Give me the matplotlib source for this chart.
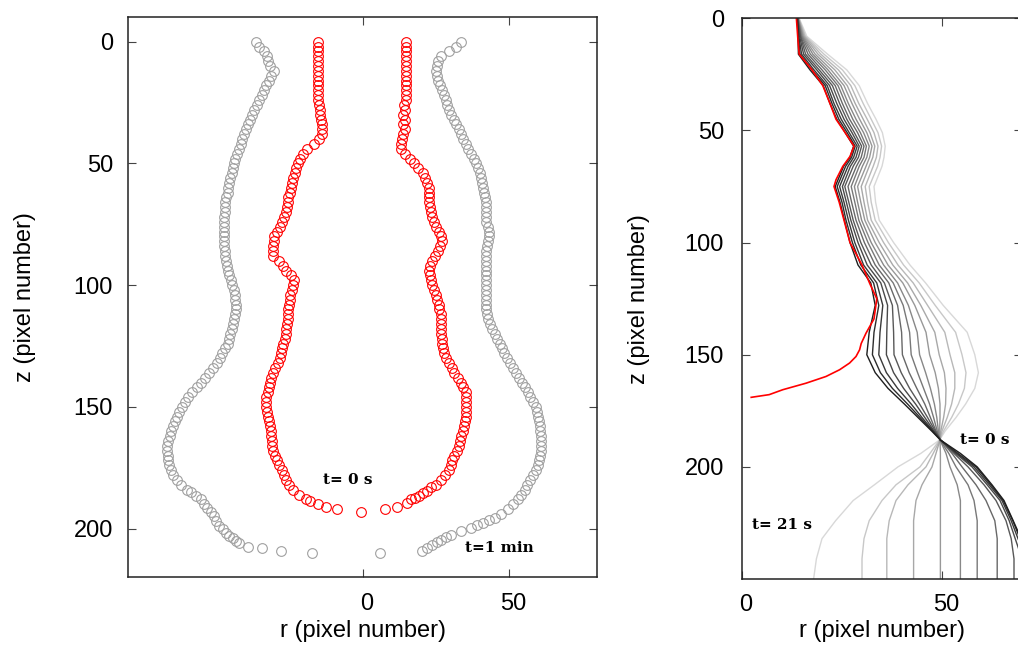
import matplotlib
matplotlib.use("Agg")
import matplotlib.pyplot as plt
import matplotlib.transforms as mtransforms

# ---------------- Left panel data: drop profiles (r, z) ----------------
red_right_z = [0, 2, 4, 6, 8, 10, 12, 14, 16, 18, 20, 22, 24, 26, 28, 30, 32, 34, 36, 38, 40, 42, 44, 46,
               48, 50, 52, 54, 56, 58, 60, 62, 64, 66, 68, 70, 72, 74, 76, 78, 80, 82, 84, 86, 88, 90,
               92, 94, 96, 98, 100, 102, 104, 106, 108, 110, 112, 114, 116, 118, 120, 122, 124, 126,
               128, 130, 132, 134, 136, 138, 140, 142, 144, 146, 148, 150, 152, 154, 156, 158, 160,
               162, 164, 166, 168, 170, 172, 174, 176, 178, 180, 182,
               183, 184.5, 185.5, 186.5, 187.5, 188, 189.5, 191, 192]
red_right_r = [15, 15, 15, 15, 15, 15, 15, 15, 15, 15, 15, 15, 15, 14.2, 14.5, 14, 14.6, 14, 14.4, 14, 13.5, 13, 13, 14.5,
               16.2, 17.5, 19, 20.5, 21.3, 22.2, 22.7, 22.7, 22.8, 22.8, 23, 23.5, 23.9, 24.5, 25, 26, 26.7, 27,
               26.5, 25.8, 24.8, 23.8, 23.2, 22.8, 23, 23.4, 23.9, 24.5, 25.1, 25.6, 26, 26.3, 26.7, 26.7, 26.7,
               26.7, 26.8, 27, 27.3, 27.6, 28, 28.4, 29.5, 30.5, 31.3, 32.5, 33.6, 34.5, 35.2, 35.3, 35.3, 35.3,
               35.3, 35.3, 35, 34.6, 34.2, 33.8, 33.4, 33, 32.2, 31.3, 30.7, 30.1, 29.6, 28.2, 26.7, 25,
               23.5, 22.1, 20.5, 19.3, 17.8, 16.4, 15.3, 11.8, 7.8]

red_left_z = [0, 2, 4, 6, 8, 10, 12, 14, 16, 18, 20, 22, 24, 26, 28, 30, 32, 34, 36, 38, 40, 42, 44, 46,
              48, 50, 52, 54, 56, 58, 60, 62, 64, 66, 68, 70, 72, 74, 76, 78, 80, 82, 84, 86, 88, 90,
              92, 94, 96, 98, 100, 102, 104, 106, 108, 110, 112, 114, 116, 118, 120, 122, 124, 126,
              128, 130, 132, 134, 136, 138, 140, 142, 144, 146, 148, 150, 152, 154, 156, 158, 160,
              162, 164, 166, 168, 170, 172, 174, 176, 178, 180, 182, 184, 186, 188,
              188.8, 190, 191, 191.8, 193]
red_left_r = [-15.1, -15.1, -15.1, -15.1, -15.1, -15.1, -15.1, -15.1, -15.1, -15.1, -15.1, -15.1, -15.1,
              -14.9, -14.6, -14.4, -14.2, -14, -14, -14, -14.8, -16.5, -18.8, -20.3,
              -21.2, -22, -22.6, -23.2, -23.7, -24.1, -24.3, -24.9, -25.3, -25.6, -25.8, -26, -26.8, -27.5,
              -28.3, -29.2, -30.2, -30.4, -30.5, -30.6, -30.5, -28.5, -27.2, -26, -24.5, -23.4, -23.7,
              -24.2, -24.7, -24.8, -25.2, -25.5, -25.5, -25.6, -25.8, -26, -26.1, -26.6, -27.1, -27.4,
              -27.8, -28.3, -29, -29.8, -30.6, -31.2, -31.6, -31.9, -32.3, -32.8, -32.9, -32.9, -32.6,
              -32.3, -32, -31.6, -31.2, -31.1, -31, -30.8, -30.5, -30, -29.3, -28.6, -27.6, -26.8, -26,
              -25, -23.7, -21.8, -19.3,
              -18, -15.1, -12.6, -8.6, -0.6]

gray_right_z = [0, 2, 4, 6, 8, 10, 12, 14, 16, 18, 20, 22, 24, 26, 28, 30, 32, 34, 36, 38, 40, 42, 44, 46,
                48, 50, 52, 54, 56, 58, 60, 62, 64, 66, 68, 70, 72, 74, 76, 78, 80, 82, 84, 86, 88, 90,
                92, 94, 96, 98, 100, 102, 104, 106, 108, 110, 112, 114, 116, 118, 120, 122, 124, 126,
                128, 130, 132, 134, 136, 138, 140, 142, 144, 146, 148, 150, 152, 154, 156, 158, 160,
                162, 164, 166, 168, 170, 172, 174, 176, 178, 180, 182, 184, 186, 188, 190, 192,
                193.8, 195.6, 196.6, 197.7, 198.7, 199.7, 201, 202.5, 203.5, 204.5, 205.5, 206.6, 208, 209, 210]
gray_right_r = [33.8, 31.9, 29.6, 26.7, 25.8, 25.3, 25, 25.3, 25.8, 26.4, 27.2, 27.8, 28.4, 29, 29.6, 30.4,
                31.2, 31.9, 32.8, 33.7, 34.5, 35.3, 36.2, 37, 38, 38.8, 39.5, 40.1, 40.6, 40.9, 41.2, 41.6,
                42, 42.2, 42.2, 42.2, 42.2, 42.2, 43, 43.3, 43.3, 43, 42.4, 42.2, 42.2, 42.2, 42.2, 42.2,
                42.2, 42.2, 42.2, 42.2, 42.2, 42.2, 42.2, 42.2, 42.5, 43, 43.6, 44.3, 45.2, 46, 46.8, 47.6,
                48.5, 49.4, 50.4, 51.5, 52.6, 53.6, 54.6, 55.6, 56.5, 57.3, 58.2, 59.1, 59.7, 60.1, 60.4,
                60.6, 60.8, 61, 61.1, 61.1, 61.1, 60.8, 60.4, 60, 59.2, 58.2, 57.1, 56.2, 55.4, 54.3, 53.1,
                51.5, 49.7,
                47.4, 45.1, 43.2, 41.1, 39, 37, 33.6, 30.2, 28.5, 26.7, 25.3, 23.9, 22, 20.4, 6.1]

gray_left_z = [0, 2, 4, 6, 8, 10, 12, 14, 16, 18, 20, 22, 24, 26, 28, 30, 32, 34, 36, 38, 40, 42, 44, 46,
               48, 50, 52, 54, 56, 58, 60, 62, 64, 66, 68, 70, 72, 74, 76, 78, 80, 82, 84, 86, 88, 90,
               92, 94, 96, 98, 100, 102, 104, 106, 108, 110, 112, 114, 116, 118, 120, 122, 124, 126,
               128, 130, 132, 134, 136, 138, 140, 142, 144, 146, 148, 150, 152, 154, 156, 158, 160,
               162, 164, 166, 168, 170, 172, 174, 176, 178, 180, 182, 184,
               185, 186.5, 188, 190, 191.5, 193, 195, 197, 199, 200.3, 201.6, 203, 204, 205, 206,
               207.5, 208, 209, 210]
gray_left_r = [-36.4, -35.2, -33.5, -32.6, -32.2, -31.5, -30.4, -31.2, -32, -32.8, -33.5, -34.4, -35.3,
               -36.2, -37, -37.7, -38.3, -39.2, -39.8, -40.5, -41, -41.5, -42.2, -43, -43.5, -44, -44.3,
               -44.6, -45.2, -45.5, -45.8, -46.1, -46.5, -46.8, -46.9, -47.1, -47.2, -47.2, -47.2, -47.2,
               -47.2, -47.2, -47.2, -47, -46.9, -46.7, -46.3, -45.9, -45.5, -45, -44.5, -44, -43.6, -43.4,
               -43.3, -43.3, -43.6, -44, -44.3, -44.6, -45.2, -45.7, -46.1, -46.8, -47.9, -48.8, -49.8,
               -51, -52.4, -53.8, -55.3, -56.7, -58.1, -59.5, -60.8, -61.8, -62.6, -63.3, -64, -64.7,
               -65.3, -65.9, -66.4, -66.7, -66.7, -66.6, -66.4, -66.2, -65.5, -64.7, -63.5, -62, -60,
               -58.7, -57, -55.3, -54, -53, -51.8, -50.7, -50, -49, -47.8, -46.7, -45.5, -44.4, -43.2,
               -42.1, -39.2, -34.3, -27.8, -17.1]

# ---------------- Right panel data: profile evolution (dark = early, light = t=21 s) ----------------
line_z = [0, 8, 16, 23, 30, 38, 45, 51, 57, 62, 66, 75, 82, 90, 100, 110, 118, 128, 140, 150, 158, 165,
          172, 178, 184, 188, 194, 200, 208, 215, 224, 232, 241, 250]
line_r = [
    [13.8, 14.0, 14.1, 17.0, 20.3, 22.0, 23.7, 25.8, 27.9, 27.0, 25.4, 23.3, 24.5, 25.6, 27.0, 29.0, 32.2, 33.3,
     31.8, 31.2, 33.3, 36.5, 40.6, 44.0, 47.4, 49.6, 54.6, 58.8, 62.5, 65.5, 67.8, 69.8, 72.5, 75.0],
    [13.8, 14.1, 14.5, 17.5, 20.8, 22.5, 24.2, 26.3, 28.3, 27.4, 25.9, 23.8, 25.0, 26.0, 27.6, 29.7, 32.9, 34.2,
     33.0, 32.6, 34.6, 37.6, 41.4, 44.5, 47.6, 49.6, 54.0, 58.5, 62.2, 65.3, 67.7, 69.5, 72.0, 74.0],
    [13.9, 14.2, 14.9, 18.0, 21.3, 23.0, 24.8, 26.8, 28.8, 27.9, 26.5, 24.4, 25.5, 26.6, 28.2, 30.4, 33.7, 35.2,
     34.5, 34.2, 36.1, 38.9, 42.3, 45.0, 47.8, 49.6, 53.7, 58.0, 61.8, 65.0, 67.3, 69.0, 71.0, 72.5],
    [13.9, 14.4, 15.4, 18.7, 21.9, 23.7, 25.5, 27.5, 29.3, 28.5, 27.1, 25.1, 26.1, 27.2, 29.0, 31.3, 34.7, 36.4,
     36.2, 36.1, 37.9, 40.4, 43.4, 45.7, 48.0, 49.6, 53.4, 57.5, 61.3, 64.5, 66.8, 68.3, 70.0, 71.0],
    [13.9, 14.6, 15.9, 19.3, 22.6, 24.4, 26.2, 28.1, 29.9, 29.1, 27.8, 25.7, 26.7, 27.8, 29.7, 32.3, 35.6, 37.6,
     37.9, 38.0, 39.8, 41.9, 44.4, 46.4, 48.3, 49.6, 53.0, 56.5, 60.5, 63.5, 66.0, 67.3, 68.0, 68.0],
    [14.0, 14.7, 16.5, 20.0, 23.3, 25.1, 26.9, 28.9, 30.5, 29.8, 28.6, 26.5, 27.4, 28.5, 30.6, 33.3, 36.7, 38.9,
     39.9, 40.1, 41.8, 43.7, 45.7, 47.1, 48.5, 49.6, 52.5, 55.0, 58.5, 61.0, 63.2, 63.8, 63.8, 63.8],
    [14.0, 14.9, 17.1, 20.8, 24.0, 25.9, 27.7, 29.6, 31.1, 30.5, 29.3, 27.3, 28.2, 29.2, 31.5, 34.3, 37.8, 40.3,
     41.9, 42.3, 43.9, 45.4, 46.9, 47.9, 48.8, 49.5, 51.7, 53.5, 56.5, 58.0, 58.8, 58.8, 58.8, 58.8],
    [14.0, 15.1, 17.7, 21.5, 24.7, 26.6, 28.5, 30.4, 31.8, 31.2, 30.1, 28.1, 28.9, 29.9, 32.3, 35.4, 38.9, 41.6,
     43.8, 44.4, 45.9, 47.1, 48.1, 48.7, 49.1, 49.5, 51.0, 52.0, 53.8, 54.6, 54.6, 54.6, 54.6, 54.6],
    [14.1, 15.3, 18.3, 22.3, 25.5, 27.5, 29.4, 31.2, 32.5, 31.9, 31.0, 28.9, 29.7, 30.7, 33.3, 36.5, 40.2, 43.2,
     46.0, 46.9, 48.3, 49.1, 49.5, 49.5, 49.4, 49.5, 49.6, 49.6, 49.6, 49.6, 49.6, 49.6, 49.6, 49.6],
    [14.1, 15.5, 19.0, 23.2, 26.3, 28.3, 30.3, 32.0, 33.2, 32.7, 31.8, 29.8, 30.5, 31.4, 34.3, 37.7, 41.4, 44.7,
     48.2, 49.3, 50.6, 51.0, 50.9, 50.4, 49.7, 49.5, 48.5, 47.5, 45.0, 43.5, 42.9, 42.9, 42.9, 42.9],
    [14.2, 15.7, 19.7, 24.1, 27.2, 29.2, 31.3, 33.0, 34.0, 33.6, 32.8, 30.8, 31.4, 32.3, 35.4, 39.0, 42.8, 46.4,
     50.7, 52.0, 53.2, 53.2, 52.4, 51.3, 50.0, 49.5, 47.8, 46.0, 41.5, 38.5, 36.8, 36.2, 36.2, 36.2],
    [14.2, 15.9, 20.5, 25.1, 28.2, 30.3, 32.3, 34.0, 34.9, 34.5, 33.9, 31.8, 32.3, 33.3, 36.6, 40.4, 44.3, 48.3,
     53.4, 55.0, 56.0, 55.6, 54.1, 52.4, 50.4, 49.4, 47.0, 44.5, 38.5, 35.0, 31.8, 30.5, 30.0, 30.0],
    [14.3, 16.2, 21.4, 26.2, 29.3, 31.4, 33.5, 35.1, 35.8, 35.5, 35.0, 33.0, 33.4, 34.3, 37.9, 42.0, 45.9, 50.3,
     56.3, 58.2, 59.1, 58.2, 55.9, 53.5, 50.8, 49.4, 44.7, 39.0, 33.1, 27.8, 23.4, 20.0, 18.6, 17.9],
]
line_colors = ['#1e1e1e', '#2c2c2c', '#3a3a3a', '#494949', '#585858', '#686868', '#787878',
               '#888888', '#989898', '#a8a8a8', '#b8b8b8', '#c8c8c8', '#d8d8d8']

red_line_z = [0, 5, 10, 16, 23, 30, 38, 45, 51, 57, 61.6, 66, 72, 75, 82, 90, 100, 110, 118.5, 125,
              134, 140.4, 145, 147.8, 150.8, 153.7, 156.7, 159.7, 162.7, 165.6, 167.8, 169]
red_line_r = [13.6, 13.8, 14.0, 14.3, 17.5, 20.2, 22.0, 23.5, 25.8, 28.0, 27.0, 25.2, 23.5, 23.0, 24.3,
              25.5, 27.0, 30.0, 32.0, 33.7, 33.0, 31.0, 29.8, 29.4, 28.5, 26.9, 24.4, 21.0, 16.0, 10.2, 6.8, 2.3]

for a, b in [(red_right_z, red_right_r), (red_left_z, red_left_r),
             (gray_right_z, gray_right_r), (gray_left_z, gray_left_r), (red_line_z, red_line_r)]:
    assert len(a) == len(b), (len(a), len(b))
for rr in line_r:
    assert len(rr) == len(line_z), len(rr)

# ---------------- Figure ----------------
plt.rcParams['font.family'] = ['Liberation Sans', 'DejaVu Sans']
fig = plt.figure(figsize=(10.18, 6.64), dpi=100)

W, H = 1018.0, 664.0
axL = fig.add_axes([128.3 / W, 1 - 577.3 / H, (596.7 - 128.3) / W, (577.3 - 17.3) / H])
axR = fig.add_axes([742.0 / W, 1 - 579.0 / H, 280.0 / W, (579.0 - 18.3) / H])

gray_c = '#a0a0a0'
ms = 7.0
axL.plot(gray_left_r, gray_left_z, 'o', mfc='none', mec=gray_c, ms=ms, mew=0.8, ls='none')
axL.plot(gray_right_r, gray_right_z, 'o', mfc='none', mec=gray_c, ms=ms, mew=0.8, ls='none')
axL.plot(red_left_r, red_left_z, 'o', mfc='none', mec='#ff0000', ms=ms, mew=0.8, ls='none')
axL.plot(red_right_r, red_right_z, 'o', mfc='none', mec='#ff0000', ms=ms, mew=0.8, ls='none')

axL.set_xlim(-80, 80)
axL.set_ylim(220, -10)
axL.set_xticks([0, 50])
axL.set_yticks([0, 50, 100, 150, 200])

txt_kw = dict(family='DejaVu Serif', fontweight='bold', fontsize=11, ha='center', va='center')
axL.text(-4.9, 180, 't= 0 s', **txt_kw)
axL.text(46.6, 208, 't=1 min', **txt_kw)

for k in range(len(line_r) - 1, -1, -1):
    axR.plot(line_r[k], line_z, color=line_colors[k], lw=1.0)
axR.plot(red_line_r, red_line_z, color='#ff0000', lw=1.2)

axR.set_xlim(0, 70)
axR.set_ylim(250, 0)
axR.set_xticks([0, 50])
axR.set_yticks([0, 50, 100, 150, 200])
axR.text(60.8, 188, 't= 0 s', **txt_kw)
axR.text(9.9, 225.8, 't= 21 s', **txt_kw)

offset = mtransforms.ScaledTranslation(0.04, 0, fig.dpi_scale_trans)
for ax in (axL, axR):
    ax.tick_params(direction='in', top=True, right=True, length=6, width=0.8,
                   color='#444444', labelsize=17, pad=11)
    for sp in ax.spines.values():
        sp.set_linewidth(1.1)
        sp.set_color('#222222')
    for lab in ax.get_xticklabels():
        lab.set_transform(lab.get_transform() + offset)
    ax.set_xlabel('r (pixel number)', fontsize=17)
    ax.set_ylabel('z (pixel number)', fontsize=17)
    ax.xaxis.label.set_va('center')
    ax.yaxis.label.set_va('center')

axR.tick_params(axis='y', pad=13)

axL.xaxis.set_label_coords(0.5, (577.3 - 631) / 560.0)
axL.yaxis.set_label_coords((25 - 128.3) / 468.4, 0.5)
axR.xaxis.set_label_coords(0.5, (579.0 - 631) / 560.7)
axR.yaxis.set_label_coords((639 - 742) / 280.0, 0.5)

fig.savefig('out.png', dpi=100)
